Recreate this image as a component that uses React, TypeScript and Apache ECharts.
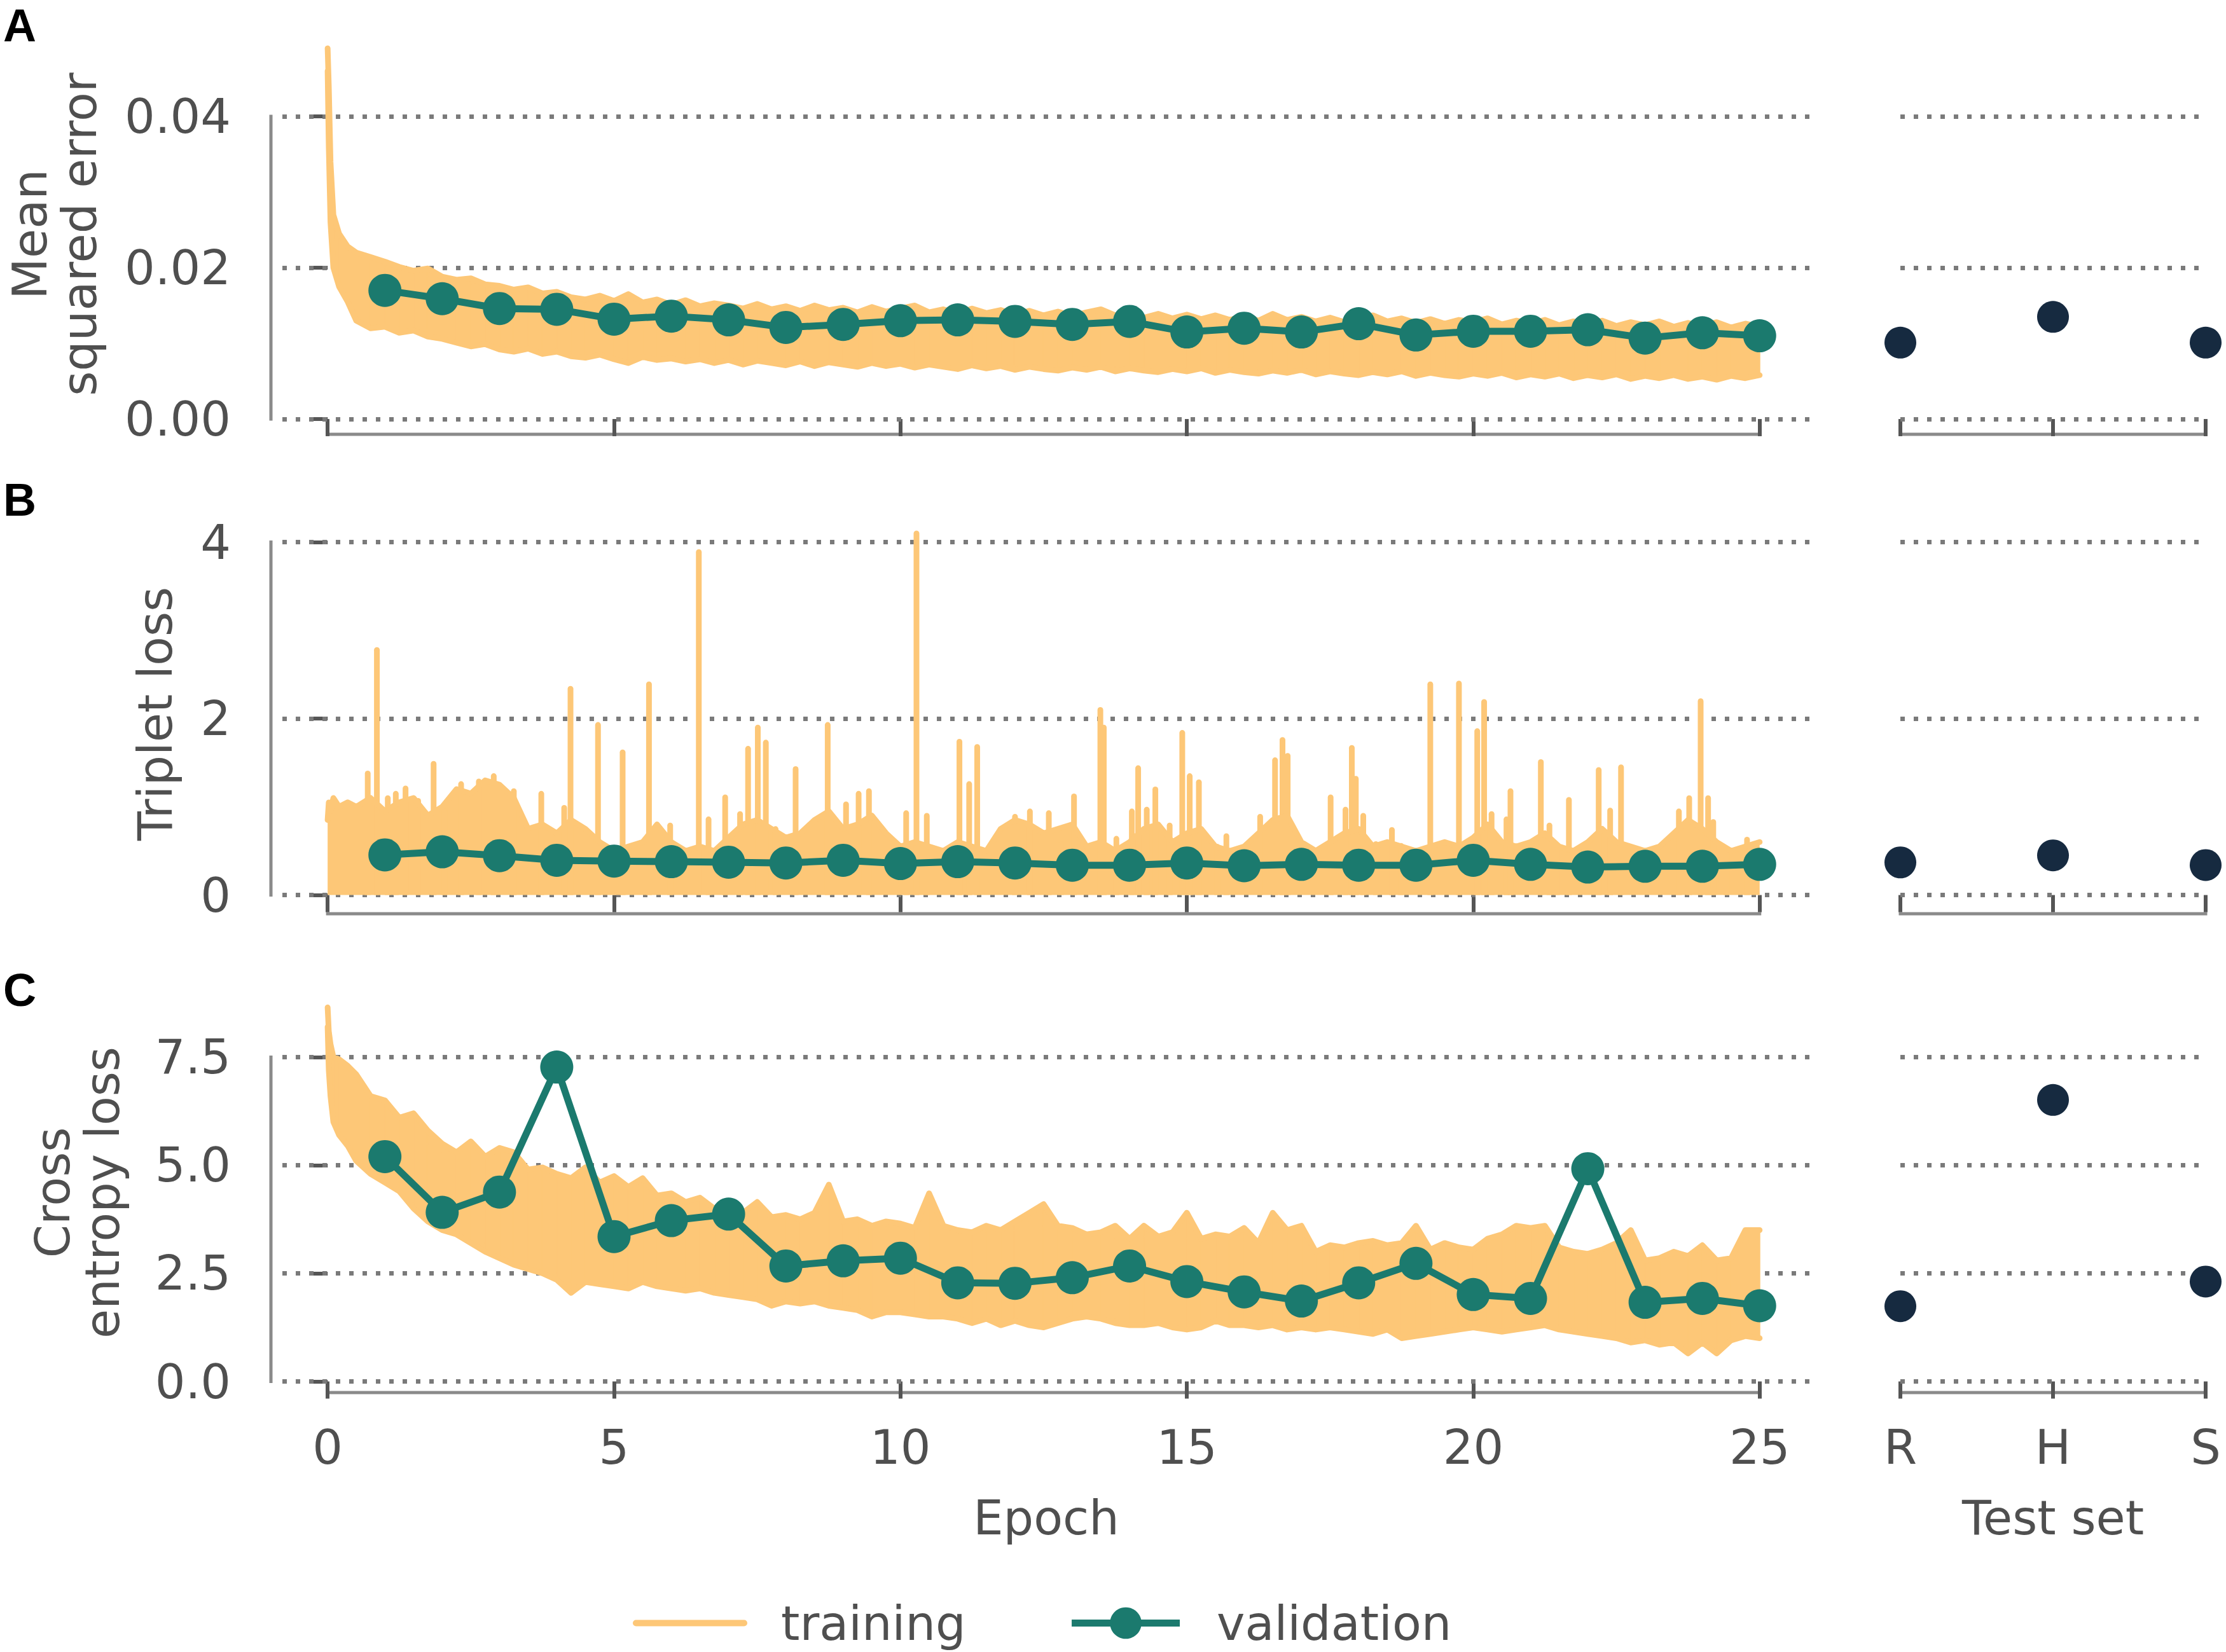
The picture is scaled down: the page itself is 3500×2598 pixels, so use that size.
import React, { useEffect, useRef } from "react";
import * as echarts from "echarts";

// ---------------- data ----------------
const trainEpochs = [
  0, 0.02, 0.05, 0.1, 0.2, 0.35,
  0.5, 0.75,
  1, 1.25, 1.5, 1.75, 2, 2.25, 2.5, 2.75, 3, 3.25, 3.5, 3.75, 4, 4.25, 4.5, 4.75,
  5, 5.25, 5.5, 5.75, 6, 6.25, 6.5, 6.75, 7, 7.25, 7.5, 7.75, 8, 8.25, 8.5, 8.75,
  9, 9.25, 9.5, 9.75, 10, 10.25, 10.5, 10.75, 11, 11.25, 11.5, 11.75, 12, 12.25, 12.5, 12.75,
  13, 13.25, 13.5, 13.75, 14, 14.25, 14.5, 14.75, 15, 15.25, 15.5, 15.75, 16, 16.25, 16.5, 16.75,
  17, 17.25, 17.5, 17.75, 18, 18.25, 18.5, 18.75, 19, 19.25, 19.5, 19.75, 20, 20.25, 20.5, 20.75,
  21, 21.25, 21.5, 21.75, 22, 22.25, 22.5, 22.75, 23, 23.25, 23.5, 23.75, 24, 24.25, 24.5, 24.75,
  25,
];

const mseTrainUpper = [
  0.049, 0.044, 0.034, 0.027, 0.0245, 0.0228,
  0.0220, 0.0214,
  0.0208, 0.0201, 0.0196, 0.0199, 0.0188, 0.0184, 0.0186, 0.0178, 0.0176, 0.0171, 0.0174, 0.0166,
  0.0168, 0.0161, 0.0158, 0.0163, 0.0156, 0.0165, 0.0154, 0.0158, 0.0151, 0.0157, 0.0149, 0.0153,
  0.0150, 0.0146, 0.0152, 0.0145, 0.0149, 0.0143, 0.0150, 0.0144, 0.0147, 0.0141, 0.0148, 0.0142,
  0.0146, 0.0150, 0.0141, 0.0145, 0.0139, 0.0146, 0.0140, 0.0144, 0.0138, 0.0143, 0.0137, 0.0142,
  0.0136, 0.0141, 0.0145, 0.0137, 0.0140, 0.0134, 0.0139, 0.0133, 0.0138, 0.0132, 0.0137, 0.0131,
  0.0136, 0.0130, 0.0139, 0.0131, 0.0135, 0.0129, 0.0134, 0.0128, 0.0133, 0.0137, 0.0129, 0.0133,
  0.0127, 0.0132, 0.0126, 0.0131, 0.0128, 0.0133, 0.0125, 0.0130, 0.0126, 0.0131, 0.0124, 0.0129,
  0.0125, 0.0130, 0.0123, 0.0128, 0.0124, 0.0129, 0.0122, 0.0127, 0.0123, 0.0128, 0.0121, 0.0126,
  0.0122,
];

const mseTrainLower = [
  0.046, 0.036, 0.026, 0.020, 0.0175, 0.0155,
  0.0130, 0.0120,
  0.0122, 0.0114, 0.0117, 0.0109, 0.0106, 0.0101, 0.0096, 0.0099, 0.0092, 0.0089, 0.0093, 0.0086,
  0.0089, 0.0083, 0.0081, 0.0085, 0.0079, 0.0074, 0.0082, 0.0078, 0.0080, 0.0076, 0.0079, 0.0074,
  0.0078, 0.0072, 0.0077, 0.0074, 0.0071, 0.0076, 0.0070, 0.0075, 0.0072, 0.0069, 0.0074, 0.0070,
  0.0073, 0.0068, 0.0072, 0.0069, 0.0066, 0.0071, 0.0067, 0.0070, 0.0065, 0.0069, 0.0066, 0.0064,
  0.0068, 0.0065, 0.0069, 0.0063, 0.0067, 0.0064, 0.0062, 0.0066, 0.0063, 0.0067, 0.0061, 0.0065,
  0.0062, 0.0060, 0.0064, 0.0061, 0.0065, 0.0059, 0.0063, 0.0060, 0.0058, 0.0062, 0.0059, 0.0063,
  0.0057, 0.0061, 0.0058, 0.0056, 0.0060, 0.0057, 0.0061, 0.0055, 0.0059, 0.0056, 0.0060, 0.0054,
  0.0058, 0.0055, 0.0059, 0.0053, 0.0057, 0.0054, 0.0058, 0.0053, 0.0056, 0.0052, 0.0057, 0.0054,
  0.0058,
];

const tripletTrainUpper = [
  0.85, 1.05, 0.95, 1.1, 1.0, 1.05,
  1.0, 1.1,
  0.95, 1.05, 1.1, 0.9, 1.0, 1.2, 1.15, 1.3, 1.25, 1.1, 0.75, 0.8,
  0.7, 0.85, 0.75, 0.6, 0.5, 0.55, 0.6, 0.8, 0.6, 0.5, 0.55, 0.5,
  0.65, 0.8, 0.85, 0.75, 0.65, 0.7, 0.85, 0.95, 0.75, 0.8, 0.9, 0.7,
  0.55, 0.6, 0.55, 0.5, 0.6, 0.55, 0.5, 0.75, 0.85, 0.8, 0.7, 0.75,
  0.8, 0.55, 0.6, 0.5, 0.6, 0.75, 0.8, 0.6, 0.7, 0.75, 0.55, 0.5,
  0.55, 0.7, 0.85, 0.9, 0.6, 0.5, 0.6, 0.7, 0.75, 0.55, 0.6, 0.55,
  0.5, 0.55, 0.6, 0.55, 0.65, 0.8, 0.6, 0.55, 0.6, 0.7, 0.55, 0.5,
  0.6, 0.75, 0.6, 0.55, 0.5, 0.55, 0.7, 0.85, 0.75, 0.6, 0.5, 0.55,
  0.6,
];

const tripletSpikeEpochs = [
  0.7, 0.86, 1.05, 1.19, 1.36, 1.58, 1.85, 2.04, 2.33, 2.64, 2.9, 3.25, 3.73, 4.13, 4.24, 4.72,
  5.15, 5.61, 5.98, 6.48, 6.65, 6.94, 7.2, 7.34, 7.51, 7.65, 7.82, 8.17, 8.73, 9.05, 9.27, 9.45,
  10.1, 10.28, 10.46, 11.03, 11.2, 11.34, 12.0, 12.26, 12.59, 12.8, 13.03, 13.49, 13.55, 13.77,
  14.04, 14.15, 14.3, 14.45, 14.7, 14.92, 15.05, 15.21, 15.53, 15.69, 16.28, 16.54, 16.67, 16.76,
  17.51, 17.77, 17.88, 17.95, 18.08, 18.3, 18.58, 18.74, 19.25, 19.75, 20.07, 20.19, 20.32, 20.58,
  20.65, 21.18, 21.33, 21.46, 21.67, 22.19, 22.39, 22.58, 23.59, 23.77, 23.97, 24.1, 24.19, 24.42,
  24.78,
];
const tripletSpikeHeights = [
  1.41, 2.81, 1.13, 1.18, 1.24, 1.1, 1.52, 0.98, 1.29, 1.32, 1.38, 1.21, 1.18, 1.02, 2.37, 1.96,
  1.65, 2.42, 0.82, 3.92, 0.89, 1.14, 0.95, 1.69, 1.93, 1.76, 0.78, 1.46, 1.96, 1.06, 1.18, 1.21,
  0.96, 4.13, 0.93, 1.77, 1.29, 1.71, 0.92, 0.98, 0.96, 0.61, 1.15, 2.13, 1.93, 0.67,
  0.98, 1.47, 1.0, 1.23, 0.82, 1.87, 1.38, 1.31, 0.58, 0.7, 0.92, 1.56, 1.79, 1.61,
  1.14, 1.0, 1.7, 1.35, 0.93, 0.61, 0.77, 0.59, 2.42, 2.43, 1.89, 2.22, 0.95, 0.89,
  1.21, 1.54, 0.82, 0.55, 1.11, 1.45, 0.99, 1.48, 0.98, 1.13, 2.23, 1.13, 0.86, 0.53,
  0.66,
];

const ceTrainUpper = [
  8.65, 8.1, 7.8, 7.5, 7.45, 7.3,
  7.1, 6.6,
  6.5, 6.1, 6.2, 5.8, 5.5, 5.3, 5.55, 5.2, 5.4, 5.3, 4.9, 4.95,
  4.8, 4.7, 4.95, 4.6, 4.75, 4.5, 4.7, 4.3, 4.35, 4.15, 4.25, 4.0,
  4.05, 3.9, 4.15, 3.8, 3.85, 3.75, 3.9, 4.55, 3.7, 3.75, 3.6, 3.7,
  3.65, 3.55, 4.35, 3.6, 3.5, 3.45, 3.6, 3.5, 3.7, 3.9, 4.1, 3.6,
  3.55, 3.4, 3.45, 3.6, 3.3, 3.6, 3.35, 3.45, 3.9, 3.3, 3.4, 3.35,
  3.55, 3.2, 3.9, 3.5, 3.6, 3.0, 3.15, 3.1, 3.2, 3.25, 3.15, 3.2,
  3.6, 3.05, 3.2, 3.1, 3.05, 3.3, 3.4, 3.6, 3.55, 3.6, 3.1, 3.0,
  2.95, 3.05, 3.2, 3.5, 2.8, 2.85, 3.0, 2.9, 3.15, 2.8, 2.85, 3.5,
  3.5,
];

const ceTrainLower = [
  8.2, 7.2, 6.6, 6.0, 5.7, 5.45,
  5.1, 4.8,
  4.6, 4.4, 4.0, 3.7, 3.5, 3.4, 3.2, 3.0, 2.85, 2.7, 2.6, 2.5,
  2.35, 2.05, 2.3, 2.25, 2.2, 2.15, 2.3, 2.2, 2.15, 2.1, 2.15, 2.05,
  2.0, 1.95, 1.9, 1.75, 1.85, 1.8, 1.85, 1.75, 1.7, 1.65, 1.5, 1.6,
  1.6, 1.55, 1.5, 1.5, 1.45, 1.35, 1.45, 1.3, 1.4, 1.3, 1.25, 1.35,
  1.45, 1.5, 1.45, 1.35, 1.3, 1.3, 1.35, 1.25, 1.2, 1.25, 1.4, 1.3,
  1.3, 1.25, 1.3, 1.2, 1.25, 1.2, 1.25, 1.2, 1.15, 1.1, 1.2, 1.0,
  1.05, 1.1, 1.15, 1.2, 1.25, 1.2, 1.15, 1.2, 1.25, 1.3, 1.2, 1.15,
  1.1, 1.05, 1.0, 0.9, 0.95, 0.85, 0.9, 0.65, 0.9, 0.65, 0.95, 1.05,
  1.0,
];

const valEpochs = [1, 2, 3, 4, 5, 6, 7, 8, 9, 10, 11, 12, 13, 14, 15, 16, 17, 18, 19, 20, 21, 22, 23, 24, 25];
const mseVal = [
  0.0170, 0.0159, 0.0146, 0.0145, 0.0132, 0.0136, 0.0131, 0.0121, 0.0125, 0.0130, 0.0131, 0.0129, 0.0125,
  0.0129, 0.0115, 0.0120, 0.0115, 0.0126, 0.0111, 0.0116, 0.0116, 0.0118, 0.0107, 0.0114, 0.0110,
];
const tripletVal = [
  0.455, 0.49, 0.446, 0.394, 0.385, 0.378, 0.372, 0.363, 0.394, 0.357, 0.378, 0.363, 0.338,
  0.338, 0.363, 0.332, 0.348, 0.338, 0.338, 0.394, 0.348, 0.317, 0.326, 0.326, 0.348,
];
const ceVal = [
  5.2, 3.91, 4.38, 7.27, 3.35, 3.72, 3.87, 2.67, 2.79, 2.85, 2.28, 2.27, 2.4,
  2.67, 2.31, 2.07, 1.86, 2.28, 2.73, 2.01, 1.92, 4.92, 1.83, 1.92, 1.75,
];

const testSets = ["R", "H", "S"];
const mseTest = [0.0101, 0.0135, 0.0101];
const tripletTest = [0.37, 0.45, 0.34];
const ceTest = [1.74, 6.51, 2.31];

const epochTicks = [0, 5, 10, 15, 20, 25];
const mseTicks = [0, 0.02, 0.04];
const mseTickLabels = ["0.00", "0.02", "0.04"];
const tripletTicks = [0, 2, 4];
const tripletTickLabels = ["0", "2", "4"];
const ceTicks = [0, 2.5, 5, 7.5];
const ceTickLabels = ["0.0", "2.5", "5.0", "7.5"];

// ---------------- style ----------------
const ORANGE = "#fdc777";
const TEAL = "#1b7a6e";
const NAVY = "#162a40";
const GRID_GRAY = "#7a7a7a";
const SPINE = "#8a8a8a";
const TICK = "#555555";
const TEXT = "#4f4f4f";
const FONT = "DejaVu Sans";
const FS = 75;

const X_MIN = -0.79;
const X_MAX = 25.88;
const LEFT_L = 444;
const LEFT_W = 2402;
const RIGHT_L = 2988;
const RIGHT_W = 480;
const PANEL_H = 594;
const X_OFF = 17.5;
const Y_OFF = 18;

function pairs(xs: number[], ys: number[]) {
  return xs.map((x, i) => [x, ys[i]]);
}
// consecutive sample pairs: [x0, lo0, hi0, x1, lo1, hi1]
function bandSegments(xs: number[], lo: number[], hi: number[]) {
  const out: number[][] = [];
  for (let i = 0; i < xs.length - 1; i++) {
    out.push([xs[i], lo[i], hi[i], xs[i + 1], lo[i + 1], hi[i + 1]]);
  }
  return out;
}
function labelFor(ticks: number[], labels: string[]) {
  return (v: number) => {
    let best = 0;
    ticks.forEach((t, i) => {
      if (Math.abs(t - v) < Math.abs(ticks[best] - v)) best = i;
    });
    return labels[best];
  };
}

export default function App() {
  const ref = useRef<HTMLDivElement>(null);

  useEffect(() => {
    const el = ref.current;
    if (!el) return;
    const chart = echarts.init(el, null, { renderer: "svg" });

    const panels = [
      {
        top: 71.5, yMin: -0.00055, yMax: 0.04937, ticks: mseTicks, labels: mseTickLabels,
        name: "Mean\nsquared error", nameGap: 262, val: mseVal, test: mseTest, letter: "A", letterY: 40,
      },
      {
        top: 825.5, yMin: -0.086, yMax: 4.195, ticks: tripletTicks, labels: tripletTickLabels,
        name: "Triplet loss", nameGap: 143, val: tripletVal, test: tripletTest, letter: "B", letterY: 786,
      },
      {
        top: 1578.5, yMin: 0, yMax: 8.735, ticks: ceTicks, labels: ceTickLabels,
        name: "Cross\nentropy loss", nameGap: 226, val: ceVal, test: ceTest, letter: "C", letterY: 1557,
      },
    ];

    const tickLine = { color: TICK, width: 6 };
    const labelStyle = { fontSize: FS, lineHeight: FS, color: TEXT, fontFamily: FONT };
    const gridLines = (ticks: number[]) => ({
      silent: true,
      symbol: ["none", "none"],
      z: 1,
      label: { show: false },
      emphasis: { disabled: true },
      lineStyle: { color: GRID_GRAY, width: 7, type: [7, 14], opacity: 1 },
      data: ticks.map((v) => ({ yAxis: v })),
    });

    const grid: any[] = [];
    const xAxis: any[] = [];
    const yAxis: any[] = [];
    const series: any[] = [];

    panels.forEach((p, i) => {
      const gl = 2 * i;
      const gr = 2 * i + 1;
      const last = i === panels.length - 1;
      grid.push({ left: LEFT_L, top: p.top, width: LEFT_W, height: PANEL_H, outerBoundsMode: "none" });
      grid.push({ left: RIGHT_L, top: p.top, width: RIGHT_W, height: PANEL_H, outerBoundsMode: "none" });

      xAxis.push({
        type: "value", gridIndex: gl, min: X_MIN, max: X_MAX, offset: X_OFF,
        axisLine: { show: false }, splitLine: { show: false },
        axisTick: { show: true, customValues: epochTicks, length: 27, lineStyle: tickLine },
        axisLabel: { show: last, customValues: epochTicks, margin: 48, ...labelStyle },
        name: last ? "Epoch" : "", nameLocation: "middle", nameGap: 159, nameMoveOverlap: false,
        nameTextStyle: { ...labelStyle },
      });
      xAxis.push({
        type: "category", gridIndex: gr, data: testSets, boundaryGap: false, offset: X_OFF,
        axisLine: { show: false }, splitLine: { show: false },
        axisTick: { show: true, interval: 0, length: 27, lineStyle: tickLine },
        axisLabel: { show: last, interval: 0, margin: 48, ...labelStyle },
        name: last ? "Test set" : "", nameLocation: "middle", nameGap: 159, nameMoveOverlap: false,
        nameTextStyle: { ...labelStyle },
      });
      yAxis.push({
        type: "value", gridIndex: gl, min: p.yMin, max: p.yMax, offset: Y_OFF, position: "left",
        axisLine: { show: false }, splitLine: { show: false },
        axisTick: { show: true, customValues: p.ticks, length: 27, lineStyle: tickLine },
        axisLabel: { customValues: p.ticks, formatter: labelFor(p.ticks, p.labels), margin: 63, ...labelStyle },
        name: p.name, nameLocation: "middle", nameRotate: 90, nameGap: p.nameGap, nameMoveOverlap: false,
        nameTextStyle: { fontSize: FS, lineHeight: 78, color: TEXT, fontFamily: FONT, align: "center" },
      });
      yAxis.push({ type: "value", gridIndex: gr, min: p.yMin, max: p.yMax, show: false, splitLine: { show: false } });
    });

    const trainLine = { color: ORANGE, width: 9, cap: "round", join: "round" };
    const edge = (gi: number, ys: number[]) => ({
      name: "training", type: "line", xAxisIndex: gi, yAxisIndex: gi,
      data: pairs(trainEpochs, ys), symbol: "none", color: ORANGE,
      itemStyle: { color: ORANGE }, lineStyle: trainLine, z: 2, clip: false, silent: true,
    });
    const band = (gi: number, lo: number[], hi: number[]) => ({
      name: "training", type: "custom", xAxisIndex: gi, yAxisIndex: gi, z: 2, silent: true,
      data: bandSegments(trainEpochs, lo, hi),
      encode: { x: [0, 3], y: [1, 2, 4, 5] },
      renderItem: (_params: any, api: any) => {
        const p0 = api.coord([api.value(0), api.value(1)]);
        const p1 = api.coord([api.value(3), api.value(4)]);
        const p2 = api.coord([api.value(3), api.value(5)]);
        const p3 = api.coord([api.value(0), api.value(2)]);
        return {
          type: "polygon",
          shape: { points: [p0, p1, p2, p3] },
          style: { fill: ORANGE, stroke: ORANGE, lineWidth: 2 },
        };
      },
    });

    // Panel A training
    series.push(edge(0, mseTrainUpper));
    series.push(edge(0, mseTrainLower));
    series.push(band(0, mseTrainLower, mseTrainUpper));
    // Panel B training
    series.push({
      ...edge(2, tripletTrainUpper),
      areaStyle: { color: ORANGE, opacity: 1 },
    });
    series.push({
      name: "training", type: "bar", xAxisIndex: 2, yAxisIndex: 2,
      data: pairs(tripletSpikeEpochs, tripletSpikeHeights), barWidth: 9,
      itemStyle: { color: ORANGE, borderRadius: [4.5, 4.5, 0, 0] }, z: 2, silent: true,
    });
    // Panel C training
    series.push(edge(4, ceTrainUpper));
    series.push(edge(4, ceTrainLower));
    series.push(band(4, ceTrainLower, ceTrainUpper));

    panels.forEach((p, i) => {
      const gl = 2 * i;
      const gr = 2 * i + 1;
      series.push({
        name: "validation", type: "line", xAxisIndex: gl, yAxisIndex: gl,
        data: pairs(valEpochs, p.val), symbol: "circle", symbolSize: 52, color: TEAL,
        itemStyle: { color: TEAL, opacity: 1 }, lineStyle: { color: TEAL, width: 11 }, z: 4, clip: false, silent: true,
        markLine: gridLines(p.ticks),
      });
      series.push({
        name: "test", type: "scatter", xAxisIndex: gr, yAxisIndex: gr,
        data: p.test, symbolSize: 50, itemStyle: { color: NAVY, opacity: 1 }, z: 4, clip: false, silent: true,
        markLine: gridLines(p.ticks),
      });
    });

    chart.setOption({
      animation: false,
      backgroundColor: "#ffffff",
      textStyle: { fontFamily: FONT },
      grid, xAxis, yAxis, series,
      legend: {
        show: true, left: 990, top: 2510, itemWidth: 170, itemHeight: 62, itemGap: 161,
        selectedMode: false,
        data: [
          { name: "training", itemStyle: { opacity: 0 }, lineStyle: { color: ORANGE, width: 10, opacity: 1 } },
          { name: "validation", itemStyle: { color: TEAL, opacity: 1 }, lineStyle: { color: TEAL, width: 11, opacity: 1 } },
        ],
        textStyle: { fontSize: FS, lineHeight: FS, color: TEXT, fontFamily: FONT, padding: [0, 0, 0, 53] },
      },
    });

    const px = (gi: number, x: any, y: number) =>
      chart.convertToPixel({ gridIndex: gi } as any, [x, y]) as unknown as number[];

    const elements: any[] = [];
    const spineStyle = { stroke: SPINE, lineWidth: 5, lineCap: "square" };
    panels.forEach((p, i) => {
      const gl = 2 * i;
      const gr = 2 * i + 1;
      const a = px(gl, X_MIN, p.ticks[0]);
      const b = px(gl, X_MIN, p.ticks[p.ticks.length - 1]);
      elements.push({
        type: "line", z: 0, silent: true,
        shape: { x1: a[0] - Y_OFF, y1: a[1], x2: a[0] - Y_OFF, y2: b[1] }, style: spineStyle,
      });
      const c = px(gl, epochTicks[0], p.yMin);
      const d = px(gl, epochTicks[epochTicks.length - 1], p.yMin);
      elements.push({
        type: "line", z: 0, silent: true,
        shape: { x1: c[0], y1: c[1] + X_OFF, x2: d[0], y2: d[1] + X_OFF }, style: spineStyle,
      });
      const e = px(gr, testSets[0], p.yMin);
      const f = px(gr, testSets[testSets.length - 1], p.yMin);
      elements.push({
        type: "line", z: 0, silent: true,
        shape: { x1: e[0], y1: e[1] + X_OFF, x2: f[0], y2: f[1] + X_OFF }, style: spineStyle,
      });
      elements.push({
        type: "text", x: 5, y: p.letterY, silent: true,
        style: {
          text: p.letter, fontSize: 72, fontWeight: "bold", fontFamily: "Liberation Sans",
          fill: "#000000", verticalAlign: "middle", align: "left",
        },
      });
    });
    chart.setOption({ graphic: { elements } });

    return () => {
      chart.dispose();
    };
  }, []);

  return (
    <div
      ref={ref}
      style={{ position: "fixed", left: 0, top: 0, width: 3500, height: 2598, background: "#ffffff" }}
    />
  );
}
